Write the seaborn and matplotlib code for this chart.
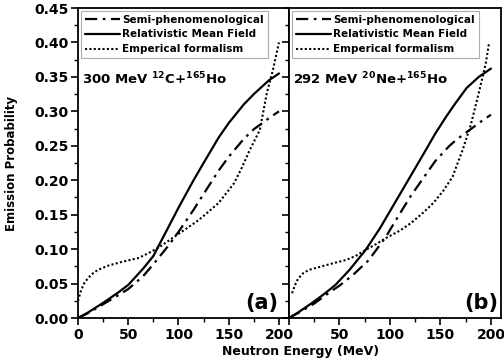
import matplotlib
matplotlib.use("Agg")
import matplotlib.pyplot as plt
import seaborn as sns
import pandas as pd
from matplotlib.ticker import MultipleLocator

# ---- panel (a): 300 MeV 12C + 165Ho ----
semi_a_x = [0, 10, 25, 40, 50, 65, 75, 90, 100, 115, 125, 140, 150, 165, 175, 190, 200]
semi_a_y = [0.0, 0.007, 0.02, 0.033, 0.042, 0.061, 0.078, 0.105, 0.125, 0.157, 0.18, 0.214, 0.234, 0.26, 0.274, 0.29, 0.30]

rmf_a_x = [0, 10, 25, 40, 50, 65, 75, 90, 100, 115, 125, 140, 150, 165, 175, 190, 200]
rmf_a_y = [0.0, 0.008, 0.022, 0.037, 0.048, 0.072, 0.09, 0.132, 0.16, 0.2, 0.225, 0.262, 0.283, 0.31, 0.325, 0.345, 0.355]

emp_a_x = [0, 3, 6, 10, 15, 20, 30, 45, 60, 70, 80, 90, 100, 120, 140, 155, 163, 171, 181, 188, 194, 200]
emp_a_y = [0.025, 0.04, 0.05, 0.058, 0.065, 0.07, 0.076, 0.082, 0.087, 0.094, 0.102, 0.112, 0.122, 0.142, 0.167, 0.195, 0.218, 0.244, 0.273, 0.327, 0.36, 0.40]

# ---- panel (b): 292 MeV 20Ne + 165Ho ----
semi_b_x = [0, 10, 25, 40, 50, 63, 79, 96, 110, 121, 133, 145, 159, 166, 179, 190, 200]
semi_b_y = [0.0, 0.008, 0.021, 0.037, 0.047, 0.062, 0.084, 0.118, 0.152, 0.178, 0.203, 0.228, 0.25, 0.259, 0.273, 0.285, 0.295]

rmf_b_x = [0, 10, 22, 35, 46, 60, 76, 90, 100, 110, 120, 134, 145, 156, 165, 176, 188, 200]
rmf_b_y = [0.0, 0.009, 0.021, 0.035, 0.048, 0.07, 0.099, 0.13, 0.155, 0.18, 0.205, 0.24, 0.268, 0.293, 0.312, 0.334, 0.35, 0.362]

emp_b_x = [3, 6, 9, 14, 20, 30, 45, 56, 66, 76, 86, 96, 110, 121, 133, 143, 153, 162, 172, 180, 186, 191, 195, 198]
emp_b_y = [0.036, 0.048, 0.057, 0.065, 0.07, 0.074, 0.08, 0.084, 0.09, 0.099, 0.107, 0.116, 0.127, 0.138, 0.153, 0.167, 0.185, 0.205, 0.244, 0.28, 0.315, 0.345, 0.37, 0.398]

series_names = ["Semi-phenomenological", "Relativistic Mean Field", "Emperical formalism"]
panel_labels = ["(a)", "(b)"]
reaction_labels = [r"300 MeV $^{12}$C+$^{165}$Ho", r"292 MeV $^{20}$Ne+$^{165}$Ho"]

sns.set_style("ticks", {"axes.edgecolor": "black", "text.color": "black",
                        "xtick.color": "black", "ytick.color": "black",
                        "axes.labelcolor": "black"})
plt.rcParams["font.family"] = ["DejaVu Sans"]
plt.rcParams["font.weight"] = "bold"
plt.rcParams["mathtext.fontset"] = "custom"
plt.rcParams["mathtext.rm"] = "DejaVu Sans:bold"
plt.rcParams["mathtext.it"] = "DejaVu Sans:bold"
plt.rcParams["mathtext.bf"] = "DejaVu Sans:bold"

fig = plt.figure(figsize=(5.04, 3.62), dpi=100)
W, H = 504, 362
ax_a = fig.add_axes([78 / W, (H - 318) / H, 211 / W, 310 / H])
ax_b = fig.add_axes([289 / W, (H - 318) / H, 212 / W, 310 / H])

styles = {
    "Semi-phenomenological": dict(ls=(0, (5.5, 2.5, 1.2, 2.5)), lw=1.6),
    "Relativistic Mean Field": dict(ls="-", lw=1.6),
    "Emperical formalism": dict(ls=(0, (1, 1.1)), lw=1.5),
}

panels = [
    (ax_a, [(semi_a_x, semi_a_y), (rmf_a_x, rmf_a_y), (emp_a_x, emp_a_y)]),
    (ax_b, [(semi_b_x, semi_b_y), (rmf_b_x, rmf_b_y), (emp_b_x, emp_b_y)]),
]

for i, (ax, curves) in enumerate(panels):
    for name, (xs, ys) in zip(series_names, curves):
        df = pd.DataFrame({"energy": xs, "prob": ys})
        sns.lineplot(data=df, x="energy", y="prob", ax=ax, color="black",
                     label=name, linestyle=styles[name]["ls"], lw=styles[name]["lw"])
    ax.set_xlim(0, 210)
    ax.set_ylim(0, 0.45)
    ax.xaxis.set_major_locator(MultipleLocator(50))
    ax.xaxis.set_minor_locator(MultipleLocator(25))
    ax.yaxis.set_major_locator(MultipleLocator(0.05))
    ax.yaxis.set_minor_locator(MultipleLocator(0.025))
    ax.tick_params(which="major", direction="out", length=5, width=1.2, labelsize=10, pad=2)
    ax.tick_params(which="minor", direction="out", length=3, width=1.0)
    for sp in ax.spines.values():
        sp.set_visible(True)
        sp.set_linewidth(1.3)
        sp.set_color("black")
    ax.set_xlabel("")
    ax.set_ylabel("")
    leg = ax.legend(loc="upper left", fontsize=7.5, frameon=True, fancybox=False,
                    edgecolor="#999999", handlelength=3.4, handletextpad=0.2,
                    borderpad=0.35, labelspacing=0.45, borderaxespad=0.3)
    leg.get_frame().set_linewidth(0.8)
    for t in leg.get_texts():
        t.set_fontweight("bold")
        t.set_color("black")
    ax.text(0.02, 0.755, reaction_labels[i], transform=ax.transAxes, color="black",
            fontsize=9.5, fontweight="bold", ha="left", va="baseline")
    for lbl in ax.get_xticklabels() + ax.get_yticklabels():
        lbl.set_fontweight("bold")

ax_a.text(0.95, 0.015, panel_labels[0], transform=ax_a.transAxes, color="black",
          fontsize=15, fontweight="bold", ha="right", va="bottom")
ax_b.text(0.985, 0.015, panel_labels[1], transform=ax_b.transAxes, color="black",
          fontsize=15, fontweight="bold", ha="right", va="bottom")

ax_a.set_xticks([0, 50, 100, 150, 200])
ax_b.set_xticks([0, 50, 100, 150, 200])
ax_b.set_xticklabels(["", "50", "100", "150", "200"])
ax_b.set_yticklabels([])

fig.text(301 / W, 1 - 352 / H, "Neutron Energy (MeV)", ha="center", va="center",
         fontsize=9, fontweight="bold", color="black")
fig.text(12 / W, 1 - 163 / H, "Emission Probability", ha="center", va="center",
         rotation=90, fontsize=8.5, fontweight="bold", color="black")

fig.savefig("out.png", dpi=100)
